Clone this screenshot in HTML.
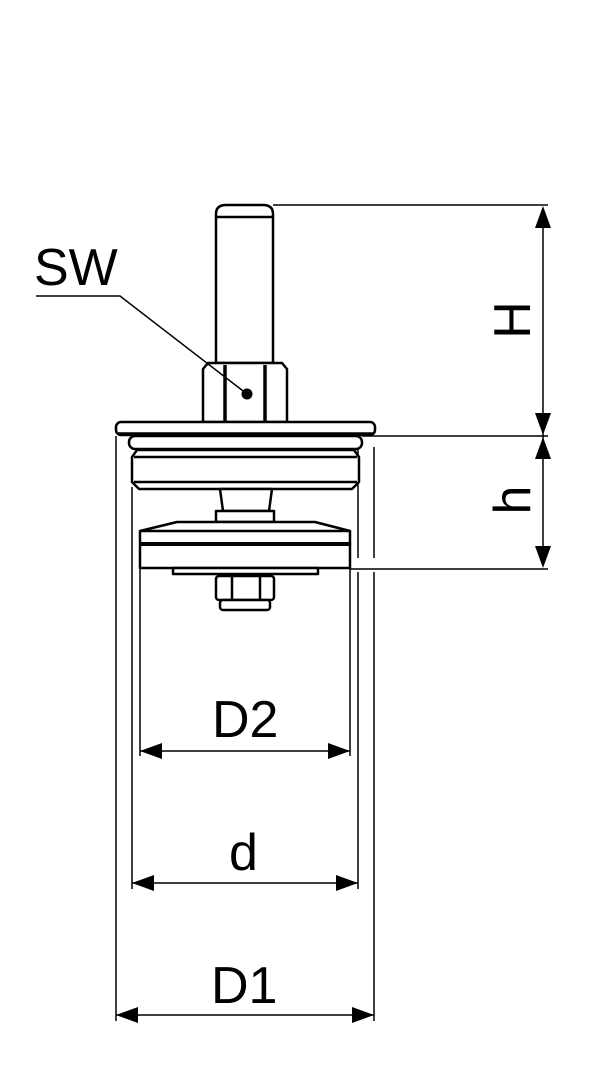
<!DOCTYPE html>
<html><head><style>
html,body{margin:0;padding:0;background:#fff;}
svg{display:block;}
text{font-family:"Liberation Sans",sans-serif;font-size:52px;fill:#000;}
</style></head><body>
<svg width="605" height="1080" viewBox="0 0 605 1080" xmlns="http://www.w3.org/2000/svg">
<g fill="none" stroke="#000" stroke-width="1.5">
<line x1="273" y1="205" x2="548" y2="205"/>
<line x1="362" y1="436" x2="548" y2="436"/>
<line x1="350" y1="569" x2="548" y2="569"/>
<line x1="116" y1="436" x2="116" y2="1021"/>
<line x1="374" y1="447" x2="374" y2="558"/>
<line x1="374" y1="572" x2="374" y2="1021"/>
<line x1="132" y1="487" x2="132" y2="889"/>
<line x1="358" y1="447" x2="358" y2="558"/>
<line x1="358" y1="572" x2="358" y2="889"/>
<line x1="140" y1="568" x2="140" y2="756"/>
<line x1="350" y1="568" x2="350" y2="756"/>
<line x1="543" y1="210" x2="543" y2="564"/>
<line x1="140" y1="751" x2="350" y2="751"/>
<line x1="132" y1="883" x2="358" y2="883"/>
<line x1="116" y1="1015" x2="374" y2="1015"/>
</g>
<g fill="#000">
<polygon points="543,206 535,228 551,228"/>
<polygon points="543,435 535,413 551,413"/>
<polygon points="543,437 535,459 551,459"/>
<polygon points="543,568 535,546 551,546"/>
<polygon points="140,751 162,743 162,759"/>
<polygon points="350,751 328,743 328,759"/>
<polygon points="132,883 154,875 154,891"/>
<polygon points="358,883 336,875 336,891"/>
<polygon points="116,1015 138,1007 138,1023"/>
<polygon points="374,1015 352,1007 352,1023"/>
</g>
<g fill="#fff" stroke="#000" stroke-width="2.5" stroke-linejoin="round">
<path d="M216,363 L216,214 Q216,205 226,205 L263,205 Q273,205 273,214 L273,363 Z"/>
<line x1="216" y1="217" x2="273" y2="217"/>
<path d="M203,422 L203,369 L208,363 L282,363 L287,369 L287,422 Z"/>
<line x1="225" y1="365" x2="225" y2="422" stroke-width="3.5"/>
<line x1="265" y1="365" x2="265" y2="422" stroke-width="3.5"/>
<rect x="116" y="422" width="259" height="13" rx="5"/>
<line x1="118" y1="434" x2="373" y2="434" stroke-width="3.5"/>
<rect x="129" y="436" width="233" height="13" rx="6"/>
<path d="M137,450 L354,450 L359,457 L359,482 L352,489 L139,489 L132,482 L132,457 Z"/>
<line x1="134" y1="457" x2="357" y2="457"/>
<line x1="134" y1="482" x2="357" y2="482"/>
<path d="M220,489 L272,489 L269,511 L223,511 Z"/>
<rect x="216" y="511" width="58" height="11"/>
<path d="M177,522 L315,522 L350,531 L350,568 L140,568 L140,531 Z"/>
<line x1="140" y1="531" x2="350" y2="531"/>
<line x1="140" y1="544" x2="350" y2="544" stroke-width="4"/>
<rect x="173" y="568" width="145" height="6"/>
<rect x="216" y="576" width="58" height="24" rx="3"/>
<line x1="232" y1="577" x2="232" y2="599"/>
<line x1="260" y1="577" x2="260" y2="599"/>
<rect x="220" y="600" width="50" height="10" rx="3"/>
</g>
<polyline points="36,296 120,296 247,394" fill="none" stroke="#000" stroke-width="1.5"/>
<circle cx="247" cy="394" r="5.5" fill="#000"/>
<text x="34" y="285">SW</text>
<text x="212" y="737">D2</text>
<text x="229" y="870">d</text>
<text x="211" y="1003">D1</text>
<text transform="translate(530,320) rotate(-90)" text-anchor="middle">H</text>
<text transform="translate(530,500) rotate(-90)" text-anchor="middle">h</text>
</svg>
</body></html>
